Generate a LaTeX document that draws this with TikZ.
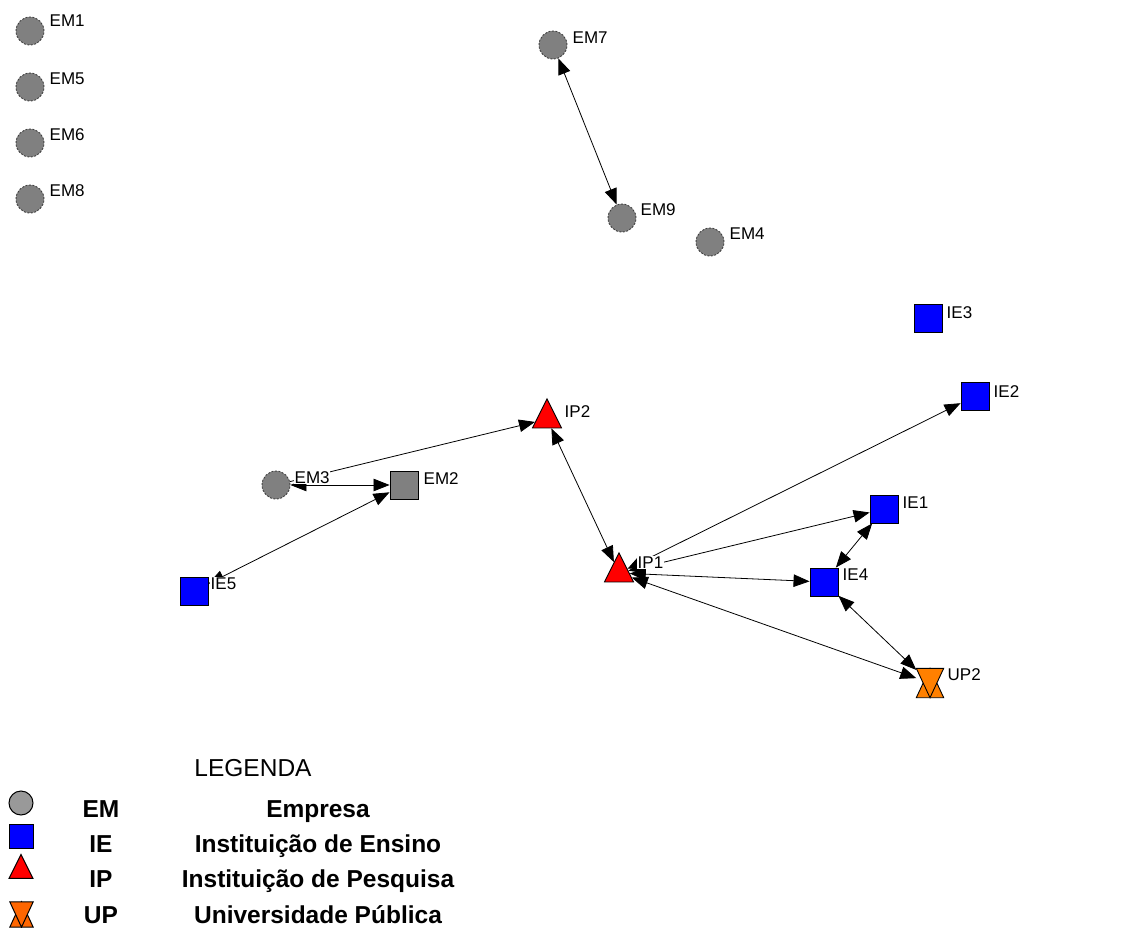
\documentclass[tikz,border=0pt]{standalone}
\usepackage{fontspec}
\setmainfont{Liberation Sans}
\usetikzlibrary{shapes.geometric,arrows.meta}
\definecolor{nodegray}{RGB}{128,128,128}
\definecolor{legray}{RGB}{153,153,153}
\definecolor{upor}{RGB}{255,128,0}
\definecolor{legor}{RGB}{255,102,0}
\begin{document}
\begin{tikzpicture}[x=1pt,y=-1pt,
 em/.style={circle,fill=nodegray,draw=black!75,dash pattern=on 2pt off 1.5pt,line width=0.9pt,minimum size=28pt,inner sep=0pt},
 ie/.style={rectangle,fill=blue,draw=black,line width=0.9pt,minimum size=28pt,inner sep=0pt},
 ip/.style={isosceles triangle,shape border rotate=90,isosceles triangle stretches,fill=red,draw=black,line width=0.9pt,minimum width=29pt,minimum height=29pt,inner sep=0pt},
 up/.style={rectangle,minimum width=27pt,minimum height=29pt,inner sep=0pt},
 lbl/.style={font=\fontsize{17}{19}\selectfont,fill=white,inner sep=0.5pt,anchor=base west},
 link/.style={line width=0.8pt,-{Triangle[length=16pt,width=12.5pt]}},
 blink/.style={line width=0.8pt,{Triangle[length=16pt,width=12.5pt]}-{Triangle[length=16pt,width=12.5pt]}},
 hour/.style={line width=0.9pt,draw=black,fill=upor},
 legtitle/.style={font=\fontsize{24.5}{28}\selectfont,anchor=base,inner sep=0pt},
 legtext/.style={font=\fontsize{24.5}{28}\selectfont\bfseries,anchor=base,inner sep=0pt},
]
\fill[white] (0,0) rectangle (1130,928);
\useasboundingbox (0,0) rectangle (1130,928);

% nodes
\node[em] (EM1) at (30,31) {};
\node[em] (EM5) at (30,87) {};
\node[em] (EM6) at (30,143) {};
\node[em] (EM8) at (30,199) {};
\node[em] (EM7) at (553,45) {};
\node[em] (EM9) at (622,218) {};
\node[em] (EM4) at (710,242) {};
\node[em] (EM3) at (276,485) {};
\node[ie,fill=nodegray] (EM2) at (404,485) {};
\node[ie] (IE3) at (928,318) {};
\node[ie] (IE2) at (975,396) {};
\node[ie] (IE1) at (884,509) {};
\node[ie] (IE4) at (824,582) {};
\node[ie] (IE5) at (194,591) {};
\node[ip] (IP2) at (547,419) {};
\node[ip] (IP1) at (619,573) {};
\node[up] (UP2) at (930,683) {};
\filldraw[hour] (UP2.south west) -- (UP2.south east) -- (UP2.north) -- cycle;
\filldraw[hour] (UP2.north west) -- (UP2.north east) -- (UP2.south) -- cycle;

% edges
\draw[blink] (EM7) -- (EM9);
\draw[link] (EM3) -- (IP2);
\draw[blink] (EM3) -- (EM2);
\draw[blink] (IE5) -- (EM2);
\draw[blink] (IP2) -- (IP1);
\draw[blink] (IP1) -- (IE2);
\draw[blink] (IP1) -- (IE1);
\draw[blink] (IP1) -- (IE4);
\draw[blink] (IP1) -- (UP2);
\draw[blink] (IE1) -- (IE4);
\draw[blink] (IE4) -- (UP2);

% labels
\node[lbl] (lEM1) at (49,27) {EM1};
\node[lbl] (lEM5) at (49,85) {EM5};
\node[lbl] (lEM6) at (49,141) {EM6};
\node[lbl] (lEM8) at (49,197) {EM8};
\node[lbl] (lEM7) at (572,44) {EM7};
\node[lbl] (lEM9) at (640,216) {EM9};
\node[lbl] (lEM4) at (729,240) {EM4};
\node[lbl] (lEM3) at (294,483) {EM3};
\node[lbl] (lEM2) at (423,484) {EM2};
\node[lbl] (lIE3) at (946,318) {IE3};
\node[lbl] (lIE2) at (993,397) {IE2};
\node[lbl] (lIE1) at (902,508) {IE1};
\node[lbl] (lIE4) at (842,580) {IE4};
\node[lbl] (lIE5) at (210,589) {IE5};
\node[lbl] (lIP2) at (564,417) {IP2};
\node[lbl] (lIP1) at (637,568) {IP1};
\node[lbl] (lUP2) at (947,680) {UP2};

% legend
\node[legtitle] (legt) at (253,776) {LEGENDA};
\node[circle,fill=legray,draw=black,line width=1pt,minimum size=24pt,inner sep=0pt] (icEM) at (21,803) {};
\node[rectangle,fill=blue,draw=black,line width=1pt,minimum size=24pt,inner sep=0pt] (icIE) at (21,836) {};
\node[ip,minimum width=24pt,minimum height=24pt,line width=1pt] (icIP) at (21,871) {};
\node[up,minimum width=23pt,minimum height=25pt] (icUP) at (21.5,914.5) {};
\filldraw[line width=1pt,draw=black,fill=legor] (icUP.south west) -- (icUP.south east) -- (icUP.north) -- cycle;
\filldraw[line width=1pt,draw=black,fill=legor] (icUP.north west) -- (icUP.north east) -- (icUP.south) -- cycle;

\node[legtext] (aEM) at (101,817) {EM};
\node[legtext] (aIE) at (101,852) {IE};
\node[legtext] (aIP) at (101,887) {IP};
\node[legtext] (aUP) at (101,923) {UP};
\node[legtext] (dEM) at (318,817) {Empresa};
\node[legtext] (dIE) at (318,852) {Instituição de Ensino};
\node[legtext] (dIP) at (318,887) {Instituição de Pesquisa};
\node[legtext] (dUP) at (318,923) {Universidade Pública};
\end{tikzpicture}
\end{document}
